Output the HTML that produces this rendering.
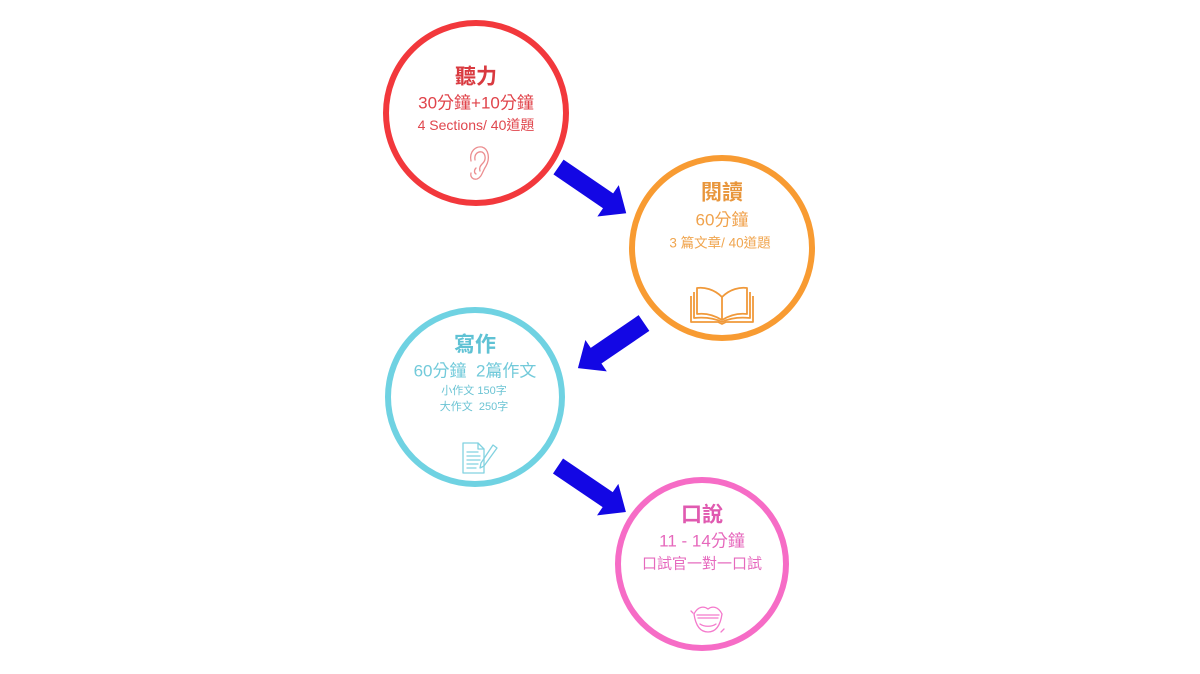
<!DOCTYPE html>
<html>
<head>
<meta charset="utf-8">
<style>
  html,body{margin:0;padding:0;background:#fff;}
  body{width:1200px;height:674px;overflow:hidden;}
  svg{display:block;}
  text{font-family:"Liberation Sans","Noto Sans CJK TC",sans-serif;text-anchor:middle;dominant-baseline:central;}
</style>
</head>
<body>
<svg width="1200" height="674" viewBox="0 0 1200 674" xmlns="http://www.w3.org/2000/svg">
  <rect width="1200" height="674" fill="#fff"/>

  <!-- Circles -->
  <circle cx="476" cy="113" r="90" fill="#fff" stroke="#F2383C" stroke-width="6"/>
  <circle cx="722" cy="248" r="90" fill="#fff" stroke="#F89B32" stroke-width="6"/>
  <circle cx="475" cy="397" r="87" fill="#fff" stroke="#6FD2E2" stroke-width="6"/>
  <circle cx="702" cy="564" r="84" fill="#fff" stroke="#F66CC6" stroke-width="6"/>

  <!-- Arrows -->
  <g fill="#1307E4">
    <g transform="translate(558.5,167) rotate(34.3)">
      <polygon points="0,-9 60,-9 60,-19 82,0 60,19 60,9 0,9"/>
    </g>
    <g transform="translate(644,323) rotate(145.7)">
      <polygon points="0,-9.5 58,-9.5 58,-19 80,0 58,19 58,9.5 0,9.5"/>
    </g>
    <g transform="translate(558,466) rotate(34.1)">
      <polygon points="0,-9 60,-9 60,-19 82,0 60,19 60,9 0,9"/>
    </g>
  </g>

  <!-- Red: 聽力 -->
  <text x="476" y="77" font-size="21" font-weight="bold" fill="#D93A40">聽力</text>
  <text x="476" y="103" font-size="17" fill="#E0434A">30分鐘+10分鐘</text>
  <text x="476" y="125" font-size="14" fill="#E0474E">4 Sections/ 40道題</text>
  <!-- ear icon -->
  <g fill="none" stroke="#EC8E90" stroke-width="1.3" stroke-linecap="round">
    <path d="M471,161 C469,151 476,146 482,147 C489,149 490,159 486,166 C482,172 482,177 477,179 C473,180 470,177 471,173"/>
    <path d="M475,160 C474,154 478,151 482,152 C486,154 486,160 483,163 C480,166 479,168 480,171"/>
    <path d="M476,168 C474,170 474,173 476,174"/>
  </g>

  <!-- Orange: 閱讀 -->
  <text x="722" y="193" font-size="21" font-weight="bold" fill="#E8963C">閱讀</text>
  <text x="722" y="220" font-size="17" fill="#F0A24C">60分鐘</text>
  <text x="720" y="243" font-size="13.5" fill="#F0A650">3 篇文章/ 40道題</text>
  <!-- book icon -->
  <g fill="none" stroke="#F0993A" stroke-width="1.8" stroke-linejoin="round">
    <path d="M722,297 C714,289 704,287 697,288 L697,314 C705,313 714,315 722,320 C730,315 739,313 747,314 L747,288 C740,287 730,289 722,297 Z"/>
    <path d="M722,297 L722,320"/>
    <path d="M694,292 L694,318 C704,317 714,318 722,322 C730,318 740,317 750,318 L750,292"/>
    <path d="M691,296 L691,322 L718,322 L722,324 L726,322 L753,322 L753,296"/>
  </g>

  <!-- Cyan: 寫作 -->
  <text x="475" y="345" font-size="21" font-weight="bold" fill="#5FC2D4">寫作</text>
  <text x="475" y="371" font-size="17" fill="#72CADA">60分鐘 &#160;2篇作文</text>
  <text x="474" y="391" font-size="11" fill="#6CC4D4">小作文 150字</text>
  <text x="474" y="407" font-size="11" fill="#6CC4D4">大作文 &#160;250字</text>
  <!-- document icon -->
  <g fill="none" stroke="#82D2E0" stroke-width="1.3" stroke-linejoin="round" stroke-linecap="round">
    <path d="M463,443 L478,443 L484,449 L484,473 L463,473 Z"/>
    <path d="M478,443 L478,449 L484,449"/>
    <path d="M467,452 L478,452 M467,456 L480,456 M467,460 L480,460 M467,464 L478,464 M467,468 L476,468"/>
    <path d="M493,445 L497,448 L484,466 L480,468 L481,463 Z"/>
  </g>

  <!-- Pink: 口說 -->
  <text x="702" y="515" font-size="21" font-weight="bold" fill="#E05AB0">口說</text>
  <text x="702" y="541" font-size="17" fill="#E668BC">11 - 14分鐘</text>
  <text x="702" y="564" font-size="15" fill="#E66ABE">口試官一對一口試</text>
  <!-- mouth icon -->
  <g fill="none" stroke="#F47ACC" stroke-width="1.3" stroke-linecap="round">
    <path d="M694,614 C698,606 704,606 708,609 C712,606 718,606 722,614"/>
    <path d="M694,614 C696,628 702,632 708,632 C714,632 720,628 722,614"/>
    <path d="M697,615 L719,615 M698,618 L718,618"/>
    <path d="M700,624 C704,627 712,627 716,624"/>
    <path d="M691,611 L693,613 M724,629 L721,632"/>
  </g>
</svg>
</body>
</html>
